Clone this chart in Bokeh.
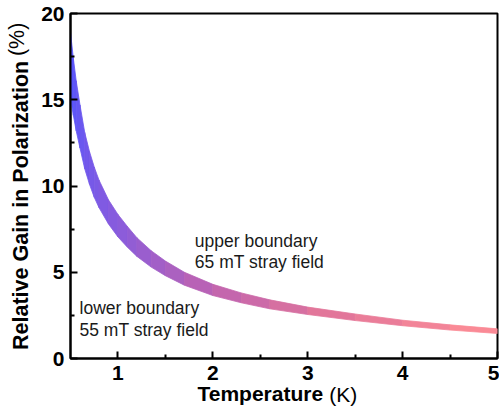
import numpy as np
from bokeh.plotting import figure
from bokeh.models import FixedTicker, Label, LinearAxis
from bokeh.embed import file_html
from bokeh.resources import INLINE

# ---- data ----
temperature = [0.50, 0.53, 0.56, 0.60, 0.65, 0.70, 0.75, 0.80, 0.90, 1.00, 1.10, 1.20,
               1.35, 1.50, 1.70, 2.00, 2.30, 2.60, 3.00, 3.50, 4.00, 4.50, 5.00]
upper_65mT = [18.9, 17.4, 16.1, 14.7, 13.1, 12.0, 11.1, 10.35, 9.2, 8.35, 7.65, 7.0,
              6.25, 5.65, 5.0, 4.3, 3.8, 3.4, 2.98, 2.58, 2.22, 1.95, 1.72]
lower_55mT = [15.1, 14.1, 13.2, 12.2, 11.0, 10.1, 9.35, 8.75, 7.8, 7.05, 6.45, 5.92,
              5.3, 4.8, 4.25, 3.65, 3.23, 2.88, 2.55, 2.2, 1.9, 1.65, 1.45]
x_ticks = [1, 2, 3, 4, 5]
x_minor = [1.5, 2.5, 3.5, 4.5]
y_ticks = [0, 5, 10, 15, 20]
y_minor = [2.5, 7.5, 12.5, 17.5]

FONT = "Liberation Sans"

p = figure(width=499, height=420, x_range=(0.5, 5), y_range=(0, 20),
           output_backend="svg", toolbar_location=None,
           min_border_left=70, min_border_right=2, min_border_top=13, min_border_bottom=62)

# ---- gradient band: one patch per segment, colour along the curve ----
T = np.array(temperature)
U = np.array(upper_65mT)
L = np.array(lower_55mT)
mid = (U + L) / 2
px = (T - 0.5) * 94.9
py = mid * 17.25
seg = np.hypot(np.diff(px), np.diff(py))
cum = np.concatenate([[0], np.cumsum(seg)])
frac_mid = (cum[:-1] + cum[1:]) / 2 / cum[-1]

stops_f = [0.0, 0.3, 0.5, 0.7, 1.0]
stops_c = np.array([[85, 85, 255], [138, 92, 220], [192, 100, 176], [226, 118, 155], [255, 142, 150]])

def col(f):
    r = np.interp(f, stops_f, stops_c[:, 0])
    g = np.interp(f, stops_f, stops_c[:, 1])
    b = np.interp(f, stops_f, stops_c[:, 2])
    return "#%02x%02x%02x" % (int(r), int(g), int(b))

xs, ys, cs = [], [], []
for i in range(len(T) - 1):
    xs.append([T[i], T[i + 1], T[i + 1], T[i]])
    ys.append([U[i], U[i + 1], L[i + 1], L[i]])
    cs.append(col(frac_mid[i]))
p.patches(xs, ys, fill_color=cs, line_color=cs, line_width=0.8)

# ---- axes styling ----
p.xgrid.visible = False
p.ygrid.visible = False
p.outline_line_color = "black"
p.outline_line_width = 2
p.background_fill_color = "white"
p.border_fill_color = "white"

p.xaxis.ticker = FixedTicker(ticks=x_ticks, minor_ticks=x_minor)
p.yaxis.ticker = FixedTicker(ticks=y_ticks, minor_ticks=y_minor)
for ax in (p.xaxis, p.yaxis):
    ax.axis_line_width = 2
    ax.axis_line_color = "black"
    ax.major_tick_in = 7
    ax.major_tick_out = 0
    ax.minor_tick_in = 4
    ax.minor_tick_out = 0
    ax.major_tick_line_width = 2
    ax.minor_tick_line_width = 2
    ax.major_label_text_font = FONT
    ax.major_label_text_font_style = "bold"
    ax.major_label_text_font_size = "21px"
    ax.major_label_text_color = "black"
p.xaxis.major_label_standoff = 7
p.yaxis.major_label_standoff = 6

# ---- axis titles: bold part + normal part, each as its own label-only axis ----
def title_axis(pos, text, bold, vertical, standoff, size):
    ax = LinearAxis(ticker=FixedTicker(ticks=[pos], minor_ticks=[]),
                    major_label_overrides={pos: text})
    ax.axis_line_color = None
    ax.major_tick_line_color = None
    ax.minor_tick_line_color = None
    ax.major_tick_in = 0
    ax.major_tick_out = 0
    ax.minor_tick_in = 0
    ax.minor_tick_out = 0
    ax.major_label_text_font = FONT
    ax.major_label_text_font_style = "bold" if bold else "normal"
    ax.major_label_text_font_size = size
    ax.major_label_text_color = "black"
    ax.major_label_standoff = standoff
    if vertical:
        ax.major_label_orientation = "vertical"
    return ax

p.add_layout(title_axis(2.5, "Temperature", True, False, -1, "21px"), "below")
p.add_layout(title_axis(3.375, "(K)", False, False, -25, "21px"), "below")
p.add_layout(title_axis(8.875, "Relative Gain in Polarization", True, True, 6, "21.5px"), "left")
p.add_layout(title_axis(18.5, "(%)", False, True, -23, "21.5px"), "left")

# ---- annotations ----
ANN_FS = "17.5px"
for (tx, ty, txt) in [(1.81, 6.8, "upper boundary"), (1.81, 5.62, "65 mT stray field"),
                      (0.595, 2.9, "lower boundary"), (0.595, 1.68, "55 mT stray field")]:
    p.add_layout(Label(x=tx, y=ty, text=txt, text_align="left", text_baseline="alphabetic",
                       text_font=FONT, text_font_size=ANN_FS, text_color="#1a1a1a"))

open("out.html", "w").write(file_html(p, INLINE))
